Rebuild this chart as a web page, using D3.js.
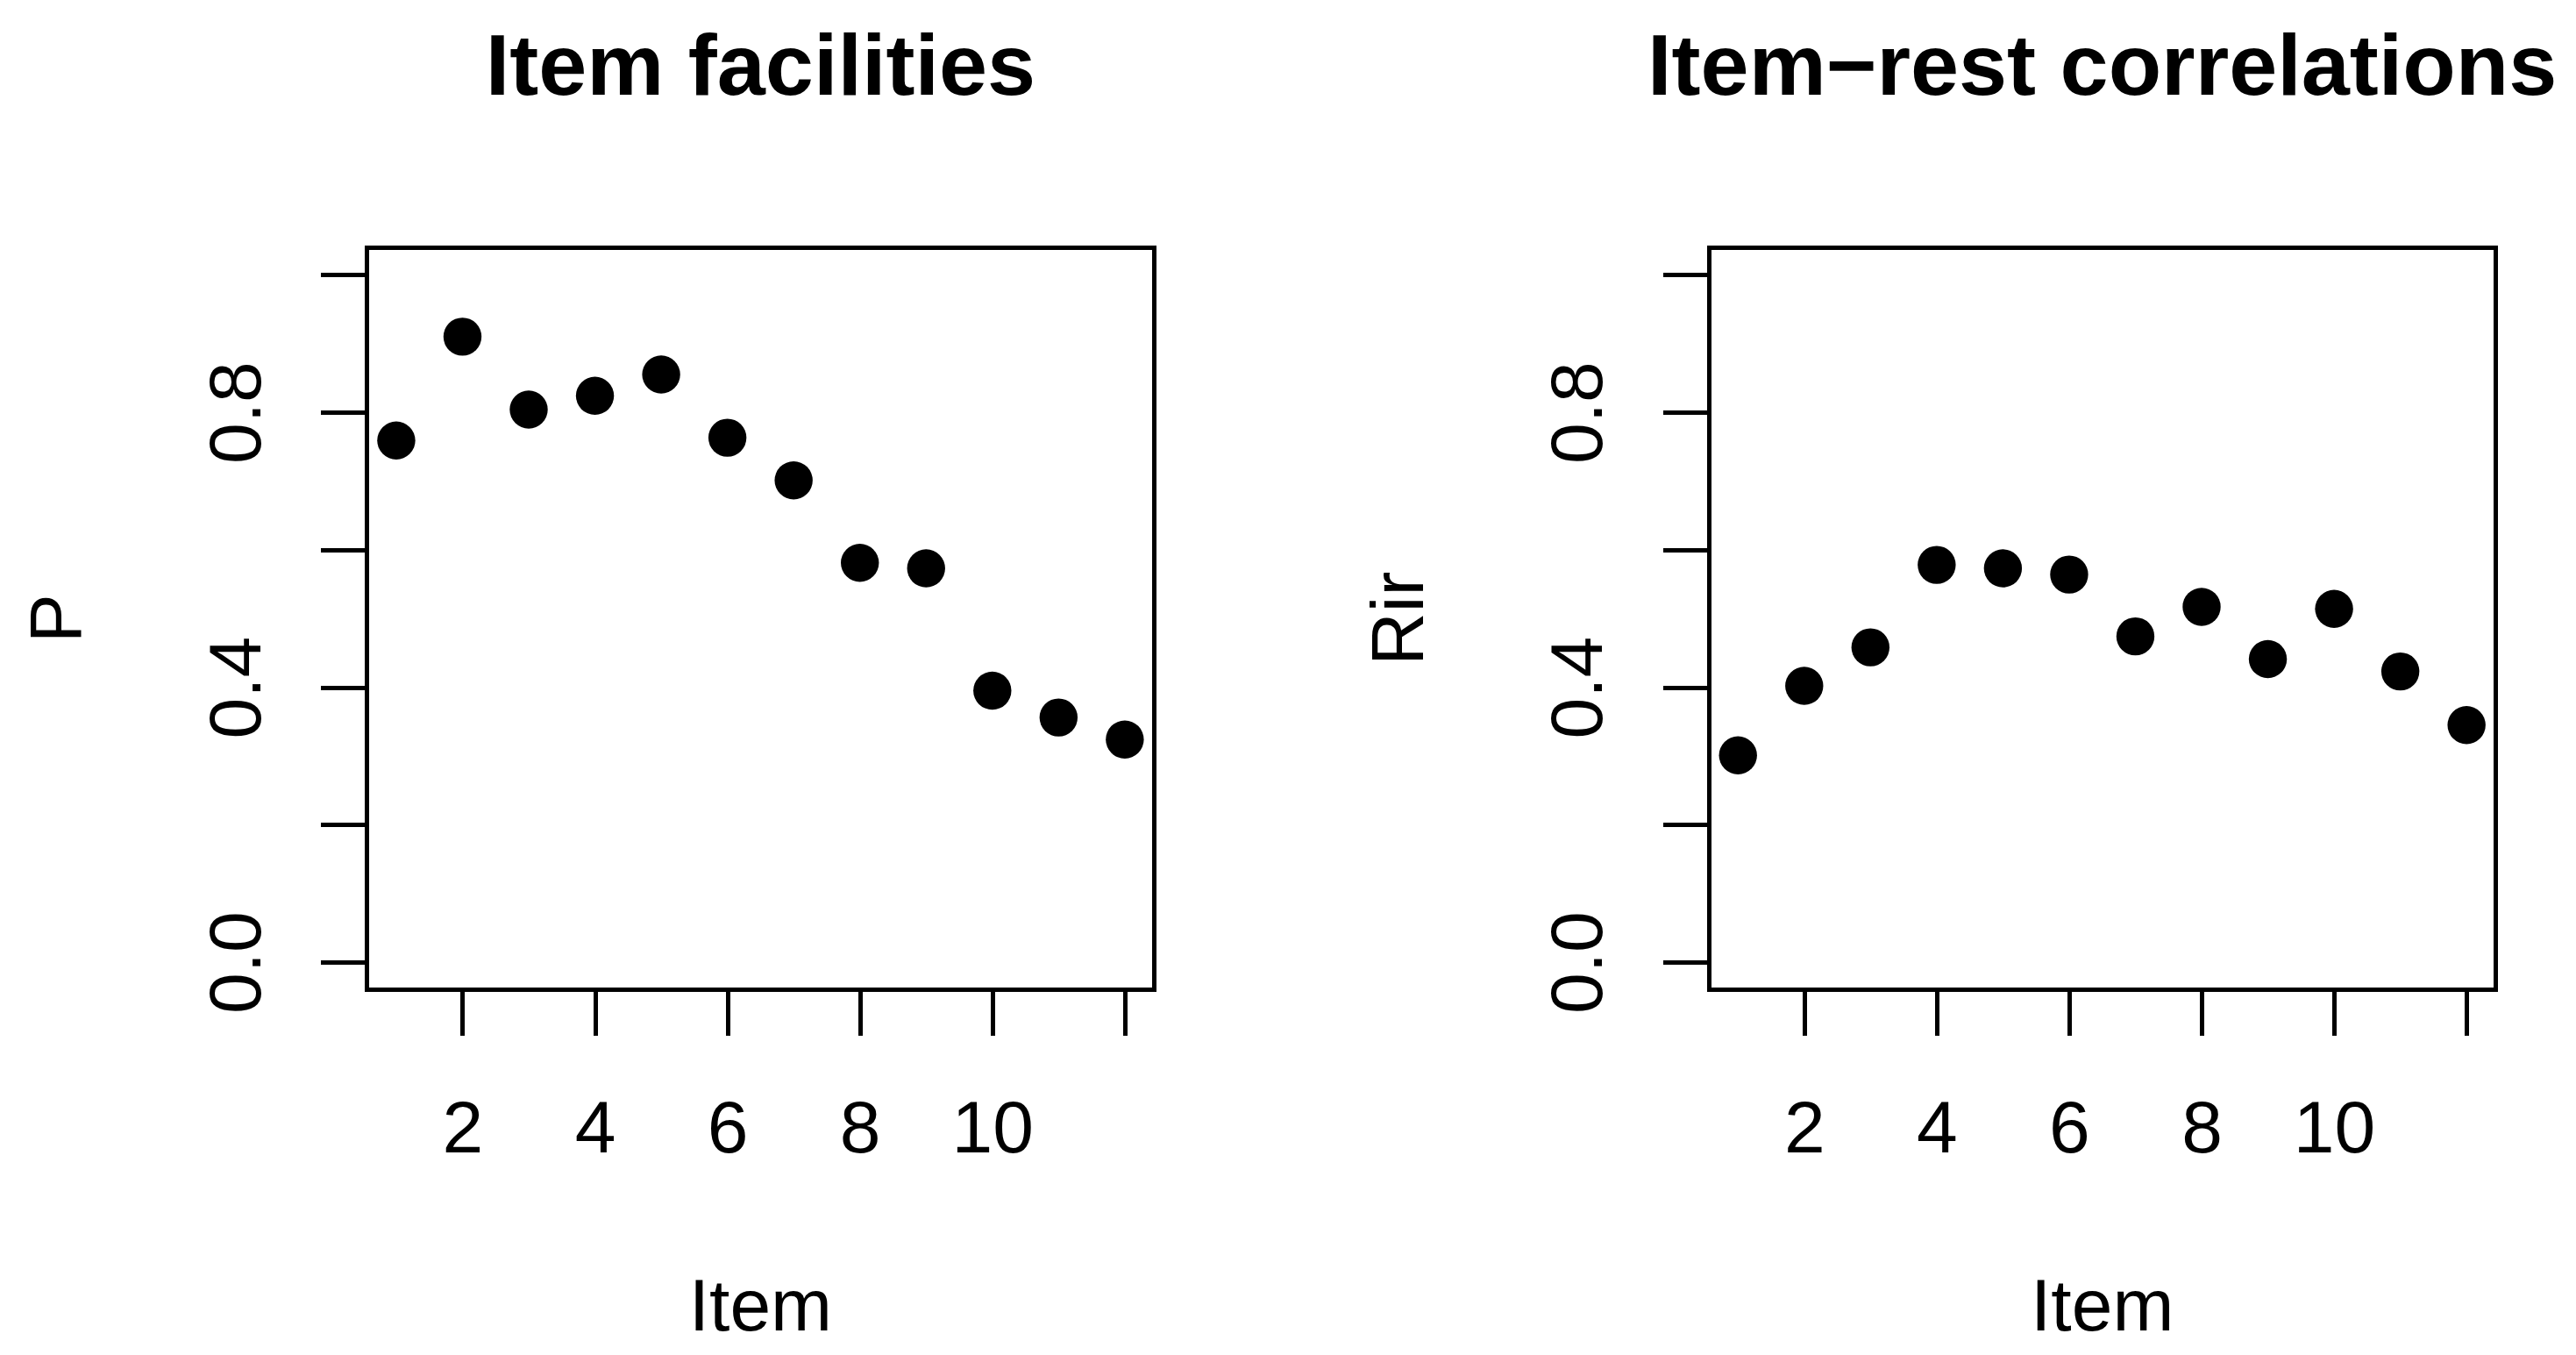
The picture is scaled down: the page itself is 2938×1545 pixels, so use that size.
<!DOCTYPE html>
<html>
<head>
<meta charset="utf-8">
<script src="https://cdn.jsdelivr.net/npm/d3@7"></script>
<style>
  html, body { margin: 0; padding: 0; background: #fff; }
  svg { display: block; }
  text { font-family: "Liberation Sans", Arial, Helvetica, sans-serif; fill: #000; }
</style>
</head>
<body>
<svg id="chart" width="2938" height="1545"></svg>
<script>
// ---- data ----
const items = [1, 2, 3, 4, 5, 6, 7, 8, 9, 10, 11, 12];
const facilities = [0.759, 0.910, 0.804, 0.824, 0.855, 0.763, 0.701, 0.581, 0.573, 0.395, 0.356, 0.324];
const restCorrelations = [0.301, 0.402, 0.458, 0.578, 0.573, 0.564, 0.474, 0.517, 0.441, 0.514, 0.423, 0.345];
const xTicks = [2, 4, 6, 8, 10, 12];
const xTickLabels = ["2", "4", "6", "8", "10", ""];
const yTicks = [0, 0.2, 0.4, 0.6, 0.8, 1.0];
const yTickLabels = ["0.0", "", "0.4", "", "0.8", ""];
const panelTitles = ["Item facilities", "Item\u2212rest correlations"];
const yLabels = ["P", "Rir"];
const xLabel = "Item";

// ---- layout ----
const svg = d3.select("#chart");
const panelLefts = [418.7, 1949];
const plotW = 897.4;
const plotTop = 282, plotBottom = 1128.5;
const lw = 5;
const baseFont = 84, titleFont = 99;
const tickLen = 52.5;

const panels = [
  { values: facilities, title: panelTitles[0], ylab: yLabels[0] },
  { values: restCorrelations, title: panelTitles[1], ylab: yLabels[1] }
];

panels.forEach((p, i) => {
  const left = panelLefts[i];
  const x = d3.scaleLinear().domain([0.56, 12.44]).range([left, left + plotW]);
  const y = d3.scaleLinear().domain([-0.04, 1.04]).range([plotBottom, plotTop]);
  const g = svg.append("g");

  // points
  g.selectAll("circle.pt").data(items).enter().append("circle")
    .attr("class", "pt")
    .attr("cx", d => x(d))
    .attr("cy", (d, k) => y(p.values[k]))
    .attr("r", 21.7)
    .attr("fill", "#000");

  // box
  g.append("rect")
    .attr("x", x.range()[0]).attr("y", plotTop)
    .attr("width", x.range()[1] - x.range()[0])
    .attr("height", plotBottom - plotTop)
    .attr("fill", "none").attr("stroke", "#000").attr("stroke-width", lw)
    .attr("shape-rendering", "crispEdges");

  // x axis
  const xa = g.append("g").attr("transform", `translate(0,${plotBottom})`)
    .call(d3.axisBottom(x).tickValues(xTicks).tickSize(tickLen).tickSizeOuter(0)
      .tickFormat((d, k) => xTickLabels[k]));
  xa.select(".domain").remove();
  xa.selectAll(".tick line").attr("stroke", "#000").attr("stroke-width", lw)
    .attr("shape-rendering", "crispEdges");
  xa.selectAll(".tick text").attr("y", 185).attr("dy", null)
    .attr("font-size", baseFont).attr("fill", "#000")
    .style("font-family", '"Liberation Sans", Arial, sans-serif');

  // y axis
  const ya = g.append("g").attr("transform", `translate(${left},0)`)
    .call(d3.axisLeft(y).tickValues(yTicks).tickSize(tickLen).tickSizeOuter(0)
      .tickFormat((d, k) => yTickLabels[k]));
  ya.select(".domain").remove();
  ya.selectAll(".tick line").attr("stroke", "#000").attr("stroke-width", lw)
    .attr("shape-rendering", "crispEdges");
  ya.selectAll(".tick text")
    .attr("x", null).attr("dy", null)
    .attr("transform", "translate(-122,0) rotate(-90)")
    .attr("text-anchor", "middle")
    .attr("font-size", baseFont).attr("fill", "#000")
    .style("font-family", '"Liberation Sans", Arial, sans-serif');

  const cx = (x.range()[0] + x.range()[1]) / 2;
  const cy = (plotTop + plotBottom) / 2;

  // title
  svg.append("text").attr("x", cx).attr("y", 108)
    .attr("text-anchor", "middle").attr("font-size", titleFont).attr("font-weight", "bold")
    .text(p.title);

  // x label
  svg.append("text").attr("x", cx).attr("y", 1516.5)
    .attr("text-anchor", "middle").attr("font-size", baseFont)
    .text(xLabel);

  // y label
  svg.append("text")
    .attr("transform", `translate(${left - 326.4},${cy}) rotate(-90)`)
    .attr("text-anchor", "middle").attr("font-size", baseFont)
    .text(p.ylab);
});
</script>
</body>
</html>
